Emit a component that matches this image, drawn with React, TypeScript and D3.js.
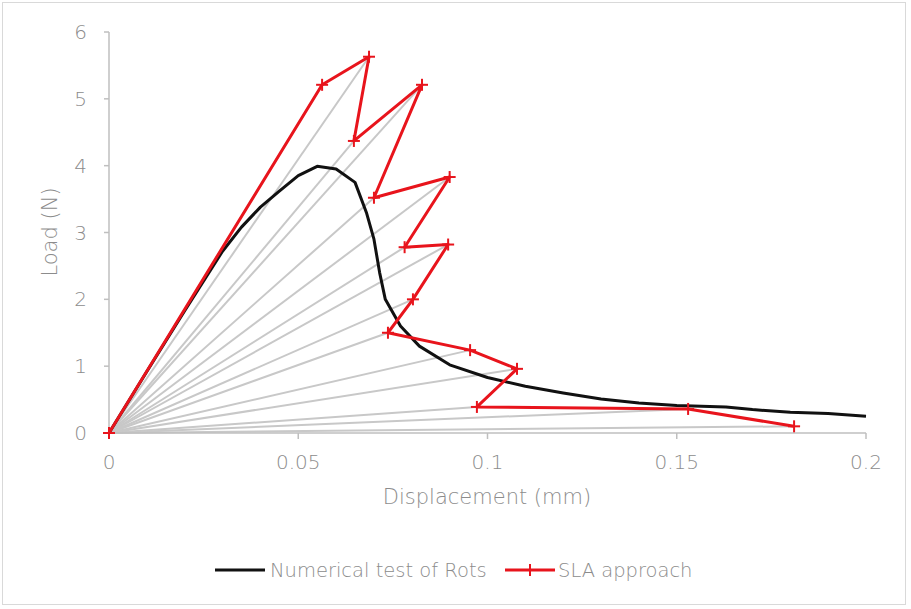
import { line, scaleLinear } from "d3";
import { useEffect } from "react";

// SLA approach (red zigzag) - displacement in mm, load in N
const slaDisp = [0, 0.0563, 0.0687, 0.0647, 0.0827, 0.07, 0.09, 0.0781, 0.0896, 0.0803, 0.0737, 0.0954, 0.1078, 0.0972, 0.153, 0.181];
const slaLoad = [0, 5.21, 5.63, 4.37, 5.21, 3.52, 3.83, 2.78, 2.82, 2.0, 1.5, 1.24, 0.96, 0.39, 0.36, 0.1];

// Numerical test of Rots (black curve)
const numDisp = [0, 0.01, 0.02, 0.03, 0.035, 0.04, 0.045, 0.05, 0.055, 0.06, 0.065, 0.068, 0.07, 0.0715, 0.073, 0.077, 0.082, 0.09, 0.1, 0.11, 0.12, 0.13, 0.14, 0.15, 0.163, 0.17, 0.18, 0.19, 0.2];
const numLoad = [0, 0.92, 1.83, 2.72, 3.08, 3.38, 3.62, 3.85, 3.99, 3.95, 3.75, 3.3, 2.9, 2.4, 2.0, 1.6, 1.3, 1.02, 0.83, 0.7, 0.6, 0.51, 0.45, 0.41, 0.39, 0.35, 0.31, 0.29, 0.25];

const xTicks = [0, 0.05, 0.1, 0.15, 0.2];
const yTicks = [0, 1, 2, 3, 4, 5, 6];

const W = 911;
const H = 609;
const x = scaleLinear().domain([0, 0.2]).range([109, 866]);
const y = scaleLinear().domain([0, 6]).range([433, 32]);

const font = "'DejaVu Sans', sans-serif";
const textColor = "#8c8c8c";
const axisColor = "#bfbfbf";
const red = "#e8141c";

export default function App() {
  useEffect(() => {
    document.body.style.margin = "0";
  }, []);

  const slaPts: [number, number][] = slaDisp.map((d, i) => [d, slaLoad[i]]);
  const numPts: [number, number][] = numDisp.map((d, i) => [d, numLoad[i]]);
  const path = line<[number, number]>()
    .x((d) => x(d[0]))
    .y((d) => y(d[1]));

  return (
    <svg width={W} height={H} style={{ display: "block", background: "#fff" }}>
      <rect x={2.5} y={2.5} width={903} height={602} fill="#fff" stroke="#d9d9d9" strokeWidth={1} />

      {/* secant rays from origin */}
      {slaPts.slice(1).map((p, i) => (
        <line key={i} x1={x(0)} y1={y(0)} x2={x(p[0])} y2={y(p[1])} stroke="#c8c8c8" strokeWidth={2} />
      ))}

      {/* axes */}
      <line x1={x(0)} y1={y(6)} x2={x(0)} y2={y(0)} stroke={axisColor} strokeWidth={1.5} />
      <line x1={x(0)} y1={y(0)} x2={x(0.2)} y2={y(0)} stroke={axisColor} strokeWidth={1.5} />
      {yTicks.map((t) => (
        <g key={t}>
          <line x1={x(0) - 5} x2={x(0)} y1={y(t)} y2={y(t)} stroke={axisColor} strokeWidth={1.5} />
          <text x={87} y={y(t)} dy="0.35em" textAnchor="end" fontFamily={font} fontSize={20} fontWeight={300} fill={textColor}>
            {t}
          </text>
        </g>
      ))}
      {xTicks.map((t) => (
        <g key={t}>
          <line x1={x(t)} x2={x(t)} y1={y(0)} y2={y(0) + 6} stroke={axisColor} strokeWidth={1.5} />
          <text x={x(t)} y={462} dy="0.35em" textAnchor="middle" fontFamily={font} fontSize={20} fontWeight={300} fill={textColor}>
            {t}
          </text>
        </g>
      ))}
      <text transform="translate(50,232) rotate(-90)" dy="0.35em" textAnchor="middle" fontFamily={font} fontSize={21} fontWeight={300} fill={textColor}>
        Load (N)
      </text>
      <text x={487} y={497} dy="0.35em" textAnchor="middle" fontFamily={font} fontSize={21} fontWeight={300} fill={textColor}>
        Displacement (mm)
      </text>

      {/* numerical curve */}
      <path d={path(numPts) ?? ""} fill="none" stroke="#111" strokeWidth={3} strokeLinejoin="round" />

      {/* SLA approach */}
      <path d={path(slaPts) ?? ""} fill="none" stroke={red} strokeWidth={3} strokeLinejoin="round" />
      {slaPts.map((p, i) => (
        <g key={i} stroke={red} strokeWidth={2}>
          <line x1={x(p[0]) - 6} x2={x(p[0]) + 6} y1={y(p[1])} y2={y(p[1])} />
          <line x1={x(p[0])} x2={x(p[0])} y1={y(p[1]) - 6} y2={y(p[1]) + 6} />
        </g>
      ))}

      {/* legend */}
      <line x1={215} x2={265} y1={570} y2={570} stroke="#111" strokeWidth={3} />
      <text x={270} y={570} dy="0.35em" fontFamily={font} fontSize={19.5} fontWeight={300} fill={textColor}>
        Numerical test of Rots
      </text>
      <line x1={505} x2={555} y1={570} y2={570} stroke={red} strokeWidth={3} />
      <line x1={524} x2={536} y1={570} y2={570} stroke={red} strokeWidth={2} />
      <line x1={530} x2={530} y1={564} y2={576} stroke={red} strokeWidth={2} />
      <text x={558} y={570} dy="0.35em" fontFamily={font} fontSize={19.5} fontWeight={300} fill={textColor}>
        SLA approach
      </text>
    </svg>
  );
}
